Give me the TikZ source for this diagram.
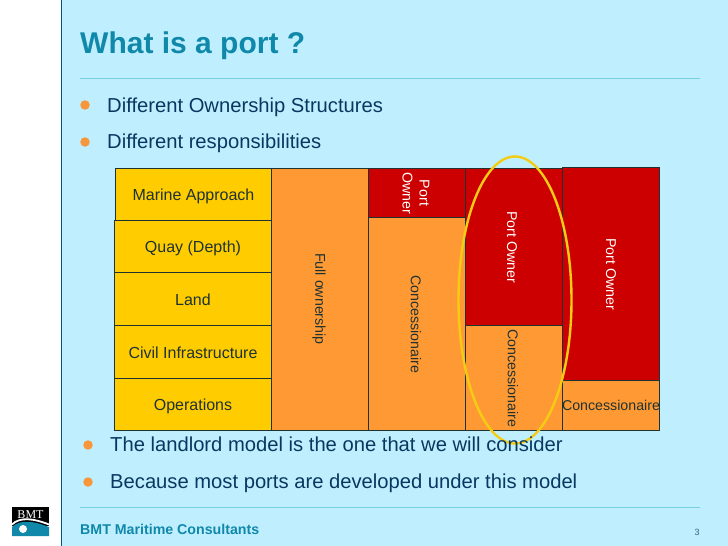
\documentclass[tikz,border=0pt]{standalone}
\usepackage{fontspec}
\setmainfont{Liberation Sans}
\usetikzlibrary{positioning}
\definecolor{slideBg}{RGB}{191,239,255}
\definecolor{slideEdge}{RGB}{0,84,128}
\definecolor{slideRule}{RGB}{122,206,226}
\definecolor{bmtTeal}{RGB}{16,136,170}
\definecolor{bodyBlue}{RGB}{8,56,96}
\definecolor{bulletOrange}{RGB}{248,150,60}
\definecolor{cellYellow}{RGB}{255,204,0}
\definecolor{cellOrange}{RGB}{255,153,51}
\definecolor{cellRed}{RGB}{204,0,0}
\definecolor{cellLine}{RGB}{30,50,50}
\definecolor{ringGold}{RGB}{244,204,20}
\tikzset{
  cell/.style={draw=cellLine, line width=0.9pt, inner sep=0pt, fill=cellYellow, text=cellLine,
    text height=12pt, text depth=0pt, font=\fontsize{16}{19}\selectfont},
  bullet/.style={circle, fill=bulletOrange, inner sep=0pt, minimum size=9.5pt},
  itemtext/.style={anchor=base west, inner sep=0pt, text=bodyBlue, font=\fontsize{20.2}{24}\selectfont},
  sidetext/.style={text=cellLine, inner sep=0pt, font=\fontsize{14.2}{17}\selectfont},
  redtext/.style={sidetext, rotate=-90, text=white, align=center}
}
\begin{document}
\begin{tikzpicture}[x=1pt, y=-1pt]
    \useasboundingbox (0,0) rectangle (728,546);
    % slide
    \fill[white] (0,0) rectangle (728,546);
    \fill[slideBg] (61,0) rectangle (728,546);
    \draw[slideEdge, line width=1.2pt] (61.5,0) -- (61.5,546);
    \draw[slideRule, line width=0.7pt] (80,78.5) -- (700,78.5);
    \draw[slideRule, line width=0.7pt] (80,507.5) -- (700,507.5);
    \node[anchor=base west, inner sep=0pt, text=bmtTeal, font=\fontsize{30}{36}\selectfont\bfseries] (title) at (80,53) {What is a port ?};
    % upper list
    \node[bullet] (dotA) at (85,105) {};
    \node[itemtext] (itemA) at (107,112) {Different Ownership Structures};
    \node[bullet] (dotB) at (85,142) {};
    \node[itemtext] (itemB) at (107,148.5) {Different responsibilities};
    % first column
    \node[cell, minimum width=156pt, minimum height=52pt] (marine) at (193.5,194.5) {Marine Approach};
    \node[cell, minimum width=157pt, minimum height=52pt] (quay) at (193,246.5) {Quay (Depth)};
    \node[cell, minimum width=157pt, minimum height=53pt] (land) at (193,299) {Land};
    \node[cell, minimum width=157pt, minimum height=53pt] (civil) at (193,352) {Civil Infrastructure};
    \node[cell, minimum width=157pt, minimum height=52pt] (oper) at (193,404.5) {Operations};
    % ownership columns
    \draw[cell, fill=cellOrange] (271.5,168.5) rectangle (368.5,430.5);
    \node[sidetext, rotate=-90] (full) at (319,299) {Full ownership};
    \draw[cell, fill=cellOrange] (368.5,217.5) rectangle (465.5,430.5);
    \draw[cell, fill=cellRed] (368.5,168.5) rectangle (465.5,217.5);
    \node[redtext] (portA) at (416,193) {Port\\Owner};
    \node[sidetext, rotate=-90] (concA) at (416,324) {Concessionaire};
    \draw[cell, fill=cellOrange] (465.5,325.5) rectangle (562.5,430.5);
    \draw[cell, fill=cellRed] (465.5,168.5) rectangle (562.5,325.5);
    \node[redtext] (portB) at (512,247) {Port Owner};
    \node[sidetext, rotate=-90] (concB) at (513,378) {Concessionaire};
    \draw[cell, fill=cellOrange] (562.5,380.5) rectangle (659.5,430.5);
    \draw[cell, fill=cellRed] (562.5,167.5) rectangle (659.5,380.5);
    \node[redtext] (portC) at (611,274) {Port Owner};
    \node[sidetext] (concC) at (611,405) {Concessionaire};
    % highlight
    \draw[ringGold, line width=2.4pt] (515,300) ellipse (56.5pt and 143.5pt);
    % lower list
    \node[bullet] (dotC) at (88,445) {};
    \node[itemtext] (itemC) at (110,451) {The landlord model is the one that we will consider};
    \node[bullet] (dotD) at (88,482) {};
    \node[itemtext] (itemD) at (110,488) {Because most ports are developed under this model};
    % footer
    \node[anchor=base west, inner sep=0pt, text=bmtTeal, font=\fontsize{14.2}{17}\selectfont\bfseries] (footer) at (80,534) {BMT Maritime Consultants};
    \node[inner sep=0pt, text=bodyBlue!80, font=\fontsize{9}{11}\selectfont] (pageno) at (697,532) {3};
    % logo
    \fill[black] (12,507) rectangle (49,526);
    \fill[bmtTeal] (12,527) .. controls (20,519) and (34,521) .. (49,527) -- (49,536) -- (12,536) -- cycle;
    \draw[white, line width=1.8pt] (12,524.5) .. controls (20,516.5) and (34,518.5) .. (49,524.5);
    \fill[white] (23,529) circle (4pt);
    \node[text=white, inner sep=0pt, font=\fontsize{12}{12}\selectfont] (logotext) at (30.5,514.5) {\fontspec{Liberation Serif}BMT};
  \end{tikzpicture}
\end{document}
